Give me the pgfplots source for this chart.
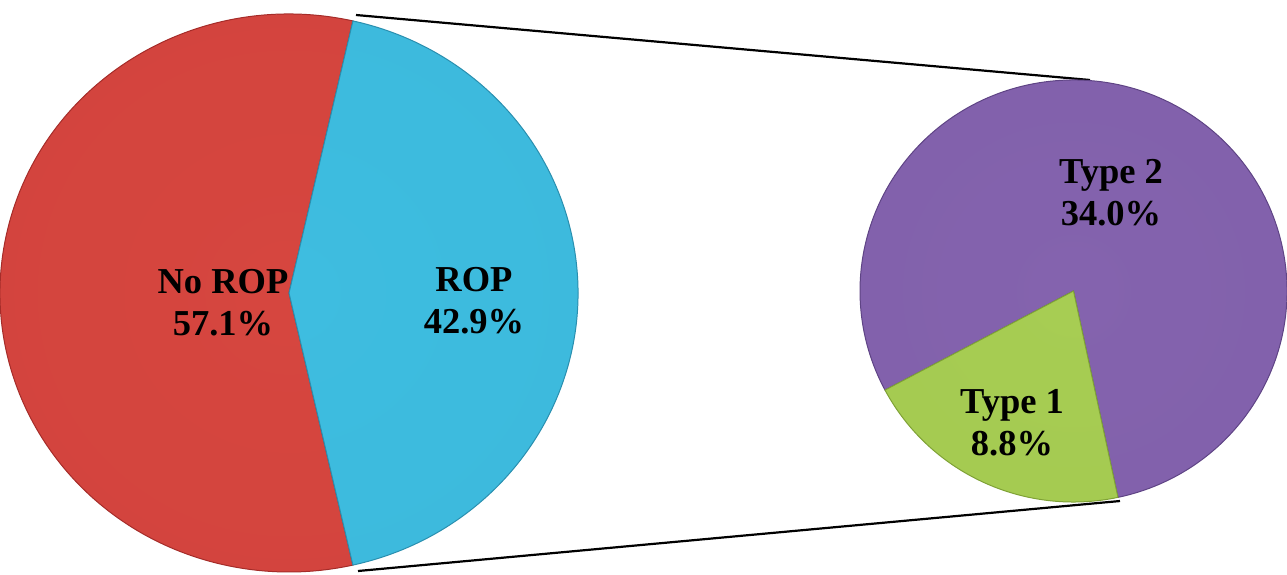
\documentclass[border=0pt]{standalone}
\usepackage{pgfplots}
\pgfplotsset{compat=1.18}
\usepackage{fontspec}
\setmainfont{Liberation Serif}
\definecolor{redIn}{HTML}{D6463F}
\definecolor{redOut}{HTML}{B32F2C}
\definecolor{redEdge}{HTML}{A52C29}
\definecolor{bluIn}{HTML}{3EBDE0}
\definecolor{bluOut}{HTML}{2A98BA}
\definecolor{bluEdge}{HTML}{2A8FAF}
\definecolor{purIn}{HTML}{8463AE}
\definecolor{purOut}{HTML}{684A8F}
\definecolor{purEdge}{HTML}{5F4485}
\definecolor{grnIn}{HTML}{A7CD53}
\definecolor{grnOut}{HTML}{89AE3B}
\definecolor{grnEdge}{HTML}{7FA236}
\pgfdeclareradialshading{redpie}{\pgfpoint{0bp}{0bp}}{color(0bp)=(redIn); color(40bp)=(redIn!88!redOut); color(49bp)=(redOut); color(50bp)=(redOut)}
\pgfdeclareradialshading{blupie}{\pgfpoint{0bp}{0bp}}{color(0bp)=(bluIn); color(40bp)=(bluIn!88!bluOut); color(49bp)=(bluOut); color(50bp)=(bluOut)}
\pgfdeclareradialshading{purpie}{\pgfpoint{0bp}{0bp}}{color(0bp)=(purIn); color(40bp)=(purIn!88!purOut); color(49bp)=(purOut); color(50bp)=(purOut)}
\pgfdeclareradialshading{grnpie}{\pgfpoint{0bp}{0bp}}{color(0bp)=(grnIn); color(40bp)=(grnIn!88!grnOut); color(49bp)=(grnOut); color(50bp)=(grnOut)}
\begin{document}
\begin{tikzpicture}
% data (percent of all)
\def\vNoROP{57.1}
\def\vROP{42.9}
\def\vTypeA{8.8}
\def\vTypeB{34.0}
% geometry of main pie (px units)
\def\cxA{289}\def\cyA{293}\def\rxA{289}\def\ryA{279}
% secondary pie
\def\cxB{1073.5}\def\cyB{291}\def\rxB{213.5}\def\ryB{211}
\pgfmathsetmacro\ropHalf{\vROP*3.6/2}
\pgfmathsetmacro\ropS{-\ropHalf}
\pgfmathsetmacro\ropE{\ropHalf}
\pgfmathsetmacro\noE{360-\ropHalf}
\pgfmathsetmacro\tAS{208}
\pgfmathsetmacro\tAE{\tAS+\vTypeA/(\vTypeA+\vTypeB)*360}
\pgfmathsetmacro\tBE{\tAS+360}
\begin{axis}[x=1pt,y=1pt,xmin=0,xmax=1287,ymin=0,ymax=579,y dir=reverse,
  hide axis, axis line style={draw=none}]
% connector lines
\draw[black, line width=2.2pt] (axis cs:356,15) -- (axis cs:1090,80);
\draw[black, line width=2.2pt] (axis cs:358,571) -- (axis cs:1120,501);
% main pie: No ROP
\begin{scope}
\clip (axis cs:\cxA,\cyA) -- ++(\ropE:\rxA pt and \ryA pt) arc[start angle=\ropE, end angle=\noE, x radius=\rxA pt, y radius=\ryA pt] -- cycle;
\shade[shading=redpie] (axis cs:\cxA,\cyA) ellipse[x radius=\rxA pt, y radius=\ryA pt];
\end{scope}
\draw[redEdge, line width=1pt] (axis cs:\cxA,\cyA) -- ++(\ropE:\rxA pt and \ryA pt) arc[start angle=\ropE, end angle=\noE, x radius=\rxA pt, y radius=\ryA pt] -- cycle;
% ROP
\begin{scope}
\clip (axis cs:\cxA,\cyA) -- ++(\ropS:\rxA pt and \ryA pt) arc[start angle=\ropS, end angle=\ropE, x radius=\rxA pt, y radius=\ryA pt] -- cycle;
\shade[shading=blupie] (axis cs:\cxA,\cyA) ellipse[x radius=\rxA pt, y radius=\ryA pt];
\end{scope}
\draw[bluEdge, line width=1pt] (axis cs:\cxA,\cyA) -- ++(\ropS:\rxA pt and \ryA pt) arc[start angle=\ropS, end angle=\ropE, x radius=\rxA pt, y radius=\ryA pt] -- cycle;
% secondary pie: Type 2
\begin{scope}
\clip (axis cs:\cxB,\cyB) -- ++(\tAE:\rxB pt and \ryB pt) arc[start angle=\tAE, end angle=\tBE, x radius=\rxB pt, y radius=\ryB pt] -- cycle;
\shade[shading=purpie] (axis cs:\cxB,\cyB) ellipse[x radius=\rxB pt, y radius=\ryB pt];
\end{scope}
\draw[purEdge, line width=1pt] (axis cs:\cxB,\cyB) -- ++(\tAE:\rxB pt and \ryB pt) arc[start angle=\tAE, end angle=\tBE, x radius=\rxB pt, y radius=\ryB pt] -- cycle;
% Type 1
\begin{scope}
\clip (axis cs:\cxB,\cyB) -- ++(\tAS:\rxB pt and \ryB pt) arc[start angle=\tAS, end angle=\tAE, x radius=\rxB pt, y radius=\ryB pt] -- cycle;
\shade[shading=grnpie] (axis cs:\cxB,\cyB) ellipse[x radius=\rxB pt, y radius=\ryB pt];
\end{scope}
\draw[grnEdge, line width=1pt] (axis cs:\cxB,\cyB) -- ++(\tAS:\rxB pt and \ryB pt) arc[start angle=\tAS, end angle=\tAE, x radius=\rxB pt, y radius=\ryB pt] -- cycle;
% labels
\tikzset{lbl/.style={font=\bfseries\fontsize{36.5}{42}\selectfont, align=center, text=black}}
\node[lbl] at (axis cs:223,303) {No ROP\\57.1\%};
\node[lbl] at (axis cs:474,301) {ROP\\42.9\%};
\node[lbl] at (axis cs:1111,193) {Type 2\\34.0\%};
\node[lbl] at (axis cs:1012,423) {Type 1\\8.8\%};
\end{axis}
\end{tikzpicture}
\end{document}
